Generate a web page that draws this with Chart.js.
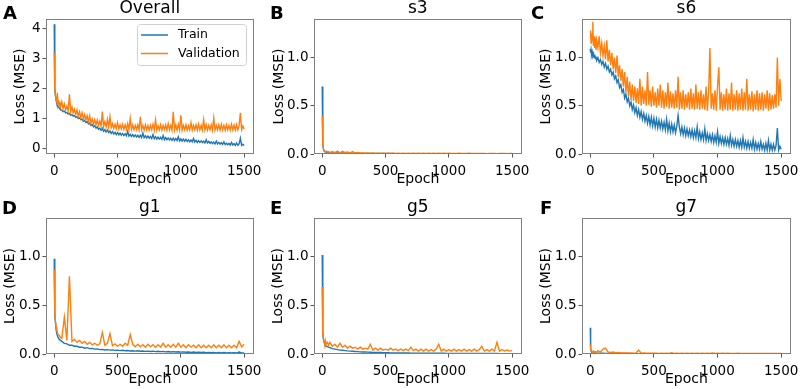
<!DOCTYPE html>
<html>
<head>
  <meta charset="utf-8">
  <title>Loss curves</title>
  <script src="https://cdn.jsdelivr.net/npm/chart.js@4"></script>
  <style>
    * { margin: 0; padding: 0; box-sizing: border-box; }
    html, body {
      width: 803px;
      height: 389px;
      overflow: hidden;
      background: #fff;
      font-family: "DejaVu Sans", sans-serif;
    }
    .box { position: absolute; }
    .tag {
      position: absolute;
      font: bold 18px "DejaVu Sans", sans-serif;
      line-height: 18px;
      color: #000;
    }
  </style>
</head>
<body>
<script>
  // dense epoch sampling, used for the two noisy panels (Overall, s6)
  const epochsDense = [
    0, 3, 6, 10, 15, 20, 25, 30, 35, 40, 45, 50,
    60, 70, 80, 90, 100, 110, 120, 130, 140, 150,
    160, 170, 180, 190, 200, 210, 220, 230, 240, 250,
    260, 270, 280, 290, 300, 310, 320, 330, 340, 350,
    360, 370, 380, 390, 400, 410, 420, 430, 440, 450,
    460, 470, 480, 490, 500, 510, 520, 530, 540, 550,
    560, 570, 580, 590, 600, 610, 620, 630, 640, 650,
    660, 670, 680, 690, 700, 710, 720, 730, 740, 750,
    760, 770, 780, 790, 800, 810, 820, 830, 840, 850,
    860, 870, 880, 890, 900, 910, 920, 930, 940, 950,
    960, 970, 980, 990, 1000, 1010, 1020, 1030, 1040, 1050,
    1060, 1070, 1080, 1090, 1100, 1110, 1120, 1130, 1140, 1150,
    1160, 1170, 1180, 1190, 1200, 1210, 1220, 1230, 1240, 1250,
    1260, 1270, 1280, 1290, 1300, 1310, 1320, 1330, 1340, 1350,
    1360, 1370, 1380, 1390, 1400, 1410, 1420, 1430, 1440, 1450,
    1460, 1470, 1480, 1490, 1500
  ];

  // coarser epoch sampling for the quieter panels
  const epochs = [
    0, 3, 6, 10, 15, 20, 25, 30, 40, 50,
    60, 80, 100, 120, 140, 160, 180, 200, 220, 240,
    260, 280, 300, 320, 340, 360, 380, 400, 420, 440,
    460, 480, 500, 520, 540, 560, 580, 600, 620, 640,
    660, 680, 700, 720, 740, 760, 780, 800, 820, 840,
    860, 880, 900, 920, 940, 960, 980, 1000, 1020, 1040,
    1060, 1080, 1100, 1120, 1140, 1160, 1180, 1200, 1220, 1240,
    1260, 1280, 1300, 1320, 1340, 1360, 1380, 1400, 1420, 1440,
    1460, 1480, 1500
  ];

  // A - Overall (dense)
  const trainOverall = [
    4.15, 2.6, 2.0, 1.75, 1.6, 1.5, 1.44, 1.40, 1.37, 1.34, 1.31, 1.29,
    1.27, 1.22, 1.24, 1.18, 1.20, 1.14, 1.16, 1.10, 1.12, 1.07,
    1.09, 1.03, 1.05, 0.99, 1.01, 0.95, 0.97, 0.90, 0.93, 0.86,
    0.89, 0.81, 0.84, 0.76, 0.79, 0.71, 0.75, 0.67, 0.71, 0.63,
    0.67, 0.59, 0.66, 0.56, 0.62, 0.54, 0.60, 0.52, 0.57, 0.49,
    0.55, 0.47, 0.53, 0.45, 0.52, 0.44, 0.50, 0.43, 0.49, 0.42,
    0.48, 0.41, 0.56, 0.40, 0.46, 0.39, 0.45, 0.38, 0.44, 0.37,
    0.43, 0.36, 0.43, 0.35, 0.50, 0.35, 0.41, 0.34, 0.40, 0.33,
    0.39, 0.32, 0.45, 0.31, 0.38, 0.30, 0.37, 0.30, 0.36, 0.29,
    0.42, 0.28, 0.35, 0.28, 0.34, 0.27, 0.33, 0.26, 0.33, 0.25,
    0.32, 0.25, 0.38, 0.24, 0.31, 0.23, 0.30, 0.23, 0.29, 0.22,
    0.28, 0.21, 0.27, 0.21, 0.32, 0.20, 0.26, 0.19, 0.25, 0.19,
    0.24, 0.18, 0.23, 0.17, 0.28, 0.17, 0.22, 0.16, 0.21, 0.15,
    0.20, 0.14, 0.23, 0.14, 0.19, 0.13, 0.18, 0.12, 0.21, 0.12,
    0.16, 0.11, 0.16, 0.10, 0.19, 0.10, 0.15, 0.09, 0.17, 0.09,
    0.14, 0.33, 0.09, 0.13, 0.08
  ];
  const valOverall = [
    3.2, 2.3, 1.95, 1.75, 1.62, 1.55, 1.85, 1.48, 1.60, 1.42, 1.55, 1.38,
    1.55, 1.32, 1.48, 1.28, 1.40, 1.25, 1.80, 1.22, 1.38, 1.18,
    1.30, 1.12, 1.28, 1.06, 1.22, 1.02, 1.18, 0.98, 1.12, 0.94,
    1.08, 0.88, 1.08, 0.84, 0.98, 0.80, 0.95, 0.78, 0.94, 0.76,
    0.90, 0.74, 1.22, 0.72, 0.88, 0.71, 0.96, 0.70, 1.05, 0.69,
    0.82, 0.66, 0.80, 0.65, 0.85, 0.64, 0.78, 0.64, 0.80, 0.63,
    0.78, 0.62, 0.82, 0.62, 1.00, 0.62, 0.78, 0.61, 0.76, 0.62,
    0.78, 0.61, 1.05, 0.62, 0.76, 0.60, 0.78, 0.61, 0.75, 0.60,
    0.76, 0.61, 0.80, 0.60, 0.95, 0.60, 0.75, 0.61, 0.78, 0.60,
    0.76, 0.62, 0.78, 0.60, 0.82, 0.61, 0.76, 0.60, 1.22, 0.61,
    0.78, 0.60, 0.80, 0.61, 1.10, 0.60, 0.76, 0.61, 0.78, 0.60,
    0.75, 0.61, 0.85, 0.60, 0.76, 0.61, 0.78, 0.60, 0.80, 0.61,
    0.76, 0.60, 0.95, 0.61, 0.78, 0.60, 0.76, 0.61, 0.78, 0.60,
    1.00, 0.60, 0.76, 0.61, 0.78, 0.60, 0.80, 0.61, 0.76, 0.60,
    0.78, 0.61, 0.76, 0.60, 0.80, 0.61, 0.77, 0.60, 0.78, 0.61,
    0.75, 1.18, 0.62, 0.74, 0.64
  ];

  // B - s3
  const trainS3 = [
    0.70, 0.25, 0.10, 0.05, 0.03, 0.025, 0.02, 0.02, 0.018, 0.015,
    0.014, 0.012, 0.012, 0.011, 0.010, 0.010, 0.009, 0.009, 0.008, 0.008,
    0.008, 0.007, 0.007, 0.007, 0.006, 0.006, 0.006, 0.006, 0.005, 0.005,
    0.005, 0.005, 0.005, 0.005, 0.005, 0.005, 0.004, 0.004, 0.004, 0.004,
    0.004, 0.004, 0.004, 0.004, 0.004, 0.004, 0.004, 0.004, 0.004, 0.004,
    0.004, 0.004, 0.003, 0.003, 0.003, 0.003, 0.003, 0.003, 0.003, 0.003,
    0.003, 0.003, 0.003, 0.003, 0.003, 0.003, 0.003, 0.003, 0.003, 0.003,
    0.003, 0.003, 0.003, 0.003, 0.003, 0.003, 0.003, 0.003, 0.003, 0.003,
    0.003, 0.003, 0.003
  ];
  const valS3 = [
    0.40, 0.22, 0.10, 0.05, 0.03, 0.025, 0.02, 0.03, 0.02, 0.025,
    0.015, 0.025, 0.015, 0.03, 0.012, 0.028, 0.015, 0.02, 0.012, 0.025,
    0.01, 0.015, 0.01, 0.012, 0.008, 0.01, 0.008, 0.01, 0.007, 0.009,
    0.006, 0.008, 0.006, 0.008, 0.006, 0.009, 0.006, 0.008, 0.006, 0.008,
    0.005, 0.008, 0.006, 0.007, 0.005, 0.008, 0.005, 0.007, 0.005, 0.007,
    0.005, 0.007, 0.005, 0.007, 0.005, 0.007, 0.005, 0.007, 0.005, 0.006,
    0.005, 0.007, 0.005, 0.006, 0.005, 0.007, 0.005, 0.006, 0.005, 0.006,
    0.005, 0.006, 0.004, 0.006, 0.005, 0.006, 0.004, 0.006, 0.005, 0.006,
    0.004, 0.006, 0.005
  ];

  // C - s6 (dense)
  const trainS6 = [
    1.09, 1.05, 1.08, 1.03, 1.06, 1.02, 1.04, 1.00, 1.03, 0.99, 1.01, 0.97,
    1.00, 0.95, 0.98, 0.93, 0.96, 0.90, 0.94, 0.88, 0.91, 0.85,
    0.88, 0.82, 0.85, 0.78, 0.81, 0.74, 0.77, 0.69, 0.72, 0.64,
    0.67, 0.58, 0.62, 0.54, 0.58, 0.50, 0.54, 0.46, 0.51, 0.43,
    0.48, 0.40, 0.46, 0.38, 0.44, 0.36, 0.42, 0.34, 0.40, 0.32,
    0.39, 0.30, 0.38, 0.29, 0.37, 0.28, 0.36, 0.27, 0.35, 0.27,
    0.34, 0.26, 0.33, 0.25, 0.36, 0.24, 0.32, 0.23, 0.31, 0.23,
    0.30, 0.22, 0.29, 0.40, 0.28, 0.21, 0.28, 0.20, 0.27, 0.19,
    0.26, 0.19, 0.25, 0.18, 0.25, 0.17, 0.24, 0.17, 0.28, 0.16,
    0.23, 0.15, 0.22, 0.15, 0.26, 0.14, 0.21, 0.14, 0.20, 0.13,
    0.20, 0.12, 0.19, 0.12, 0.23, 0.11, 0.18, 0.11, 0.17, 0.10,
    0.17, 0.10, 0.16, 0.09, 0.19, 0.09, 0.15, 0.08, 0.15, 0.08,
    0.14, 0.07, 0.14, 0.07, 0.17, 0.07, 0.13, 0.06, 0.13, 0.06,
    0.12, 0.06, 0.15, 0.05, 0.12, 0.05, 0.11, 0.05, 0.13, 0.05,
    0.10, 0.04, 0.11, 0.04, 0.14, 0.04, 0.10, 0.04, 0.10, 0.04,
    0.09, 0.27, 0.04, 0.08, 0.05
  ];
  const valS6 = [
    1.20, 1.28, 1.15, 1.25, 1.18, 1.37, 1.12, 1.22, 1.10, 1.20, 1.08, 1.18,
    1.10, 1.22, 1.05, 1.15, 1.02, 1.12, 0.98, 1.18, 0.96, 1.08,
    0.92, 1.05, 0.88, 1.00, 0.84, 1.02, 0.80, 0.92, 0.76, 0.88,
    0.70, 0.85, 0.64, 0.80, 0.60, 0.75, 0.56, 0.72, 0.55, 0.70,
    0.53, 0.68, 0.52, 0.78, 0.50, 0.70, 0.52, 0.66, 0.50, 0.85,
    0.51, 0.66, 0.49, 0.70, 0.50, 0.64, 0.48, 0.68, 0.50, 0.72,
    0.48, 0.66, 0.47, 0.64, 0.49, 0.74, 0.47, 0.65, 0.48, 0.63,
    0.47, 0.66, 0.48, 0.80, 0.46, 0.64, 0.47, 0.66, 0.46, 0.62,
    0.48, 0.64, 0.46, 0.68, 0.47, 0.63, 0.46, 0.72, 0.47, 0.64,
    0.46, 0.66, 0.47, 0.62, 0.46, 0.70, 0.45, 0.64, 1.10, 0.47,
    0.63, 0.46, 0.66, 0.45, 0.70, 0.90, 0.46, 0.64, 0.45, 0.62,
    0.46, 0.68, 0.45, 0.63, 0.46, 0.74, 0.45, 0.62, 0.46, 0.66,
    0.45, 0.63, 0.46, 0.68, 0.45, 0.64, 0.46, 0.78, 0.45, 0.62,
    0.46, 0.65, 0.44, 0.62, 0.46, 0.66, 0.45, 0.63, 0.46, 0.64,
    0.45, 0.62, 0.47, 0.66, 0.45, 0.63, 0.46, 0.61, 0.47, 0.62,
    0.48, 1.00, 0.50, 0.78, 0.55
  ];

  // D - g1
  const trainG1 = [
    0.98, 0.55, 0.40, 0.32, 0.25, 0.21, 0.19, 0.17, 0.15, 0.14,
    0.13, 0.11, 0.105, 0.09, 0.09, 0.08, 0.08, 0.07, 0.07, 0.06,
    0.065, 0.055, 0.058, 0.05, 0.052, 0.045, 0.048, 0.042, 0.045, 0.04,
    0.042, 0.037, 0.04, 0.035, 0.038, 0.033, 0.036, 0.031, 0.034, 0.03,
    0.033, 0.029, 0.031, 0.027, 0.03, 0.026, 0.029, 0.025, 0.028, 0.024,
    0.027, 0.022, 0.025, 0.021, 0.024, 0.02, 0.023, 0.019, 0.022, 0.018,
    0.021, 0.017, 0.02, 0.016, 0.019, 0.015, 0.018, 0.014, 0.017, 0.013,
    0.016, 0.012, 0.016, 0.011, 0.015, 0.011, 0.014, 0.01, 0.014, 0.01,
    0.02, 0.012, 0.01
  ];
  const valG1 = [
    0.87, 0.50, 0.42, 0.33, 0.28, 0.24, 0.22, 0.20, 0.19, 0.17,
    0.16, 0.38, 0.14, 0.80, 0.13, 0.15, 0.12, 0.14, 0.11, 0.13,
    0.10, 0.12, 0.095, 0.11, 0.09, 0.105, 0.22, 0.09, 0.11, 0.21,
    0.085, 0.105, 0.08, 0.10, 0.08, 0.11, 0.09, 0.20, 0.10, 0.075,
    0.10, 0.075, 0.095, 0.07, 0.10, 0.075, 0.095, 0.07, 0.095, 0.07,
    0.11, 0.07, 0.095, 0.07, 0.10, 0.07, 0.11, 0.07, 0.095, 0.065,
    0.095, 0.07, 0.09, 0.065, 0.095, 0.065, 0.09, 0.065, 0.09, 0.065,
    0.095, 0.065, 0.09, 0.065, 0.095, 0.065, 0.09, 0.065, 0.09, 0.065,
    0.13, 0.075, 0.10
  ];

  // E - g5
  const trainG5 = [
    1.02, 0.40, 0.22, 0.15, 0.12, 0.10, 0.09, 0.085, 0.075, 0.07,
    0.065, 0.055, 0.05, 0.045, 0.04, 0.038, 0.035, 0.032, 0.03, 0.028,
    0.026, 0.024, 0.022, 0.021, 0.02, 0.019, 0.018, 0.017, 0.016, 0.015,
    0.015, 0.014, 0.013, 0.013, 0.012, 0.012, 0.011, 0.011, 0.01, 0.01,
    0.01, 0.01, 0.009, 0.009, 0.009, 0.009, 0.008, 0.008, 0.008, 0.008,
    0.008, 0.007, 0.007, 0.007, 0.007, 0.007, 0.006, 0.006, 0.006, 0.006,
    0.006, 0.006, 0.006, 0.005, 0.005, 0.005, 0.005, 0.005, 0.005, 0.005,
    0.005, 0.005, 0.005, 0.005, 0.005, 0.005, 0.005, 0.004, 0.004, 0.004,
    0.004, 0.004, 0.004
  ];
  const valG5 = [
    0.69, 0.35, 0.20, 0.15, 0.13, 0.11, 0.14, 0.10, 0.12, 0.09,
    0.12, 0.08, 0.10, 0.07, 0.11, 0.07, 0.09, 0.06, 0.08, 0.06,
    0.07, 0.05, 0.07, 0.05, 0.06, 0.05, 0.10, 0.04, 0.06, 0.04,
    0.06, 0.04, 0.05, 0.04, 0.06, 0.04, 0.05, 0.035, 0.05, 0.035,
    0.05, 0.035, 0.07, 0.035, 0.05, 0.03, 0.05, 0.03, 0.05, 0.03,
    0.045, 0.03, 0.05, 0.10, 0.03, 0.05, 0.03, 0.045, 0.03, 0.05,
    0.03, 0.045, 0.03, 0.05, 0.03, 0.045, 0.03, 0.05, 0.03, 0.045,
    0.08, 0.03, 0.045, 0.03, 0.05, 0.03, 0.12, 0.03, 0.045, 0.03,
    0.04, 0.03, 0.035
  ];

  // F - g7
  const trainG7 = [
    0.27, 0.05, 0.03, 0.02, 0.015, 0.012, 0.01, 0.01, 0.01, 0.008,
    0.008, 0.007, 0.007, 0.006, 0.006, 0.006, 0.005, 0.005, 0.005, 0.005,
    0.005, 0.005, 0.004, 0.004, 0.004, 0.004, 0.004, 0.004, 0.004, 0.004,
    0.004, 0.004, 0.004, 0.003, 0.003, 0.003, 0.003, 0.003, 0.003, 0.003,
    0.003, 0.003, 0.003, 0.003, 0.003, 0.003, 0.003, 0.003, 0.003, 0.003,
    0.003, 0.003, 0.003, 0.003, 0.003, 0.003, 0.003, 0.003, 0.003, 0.003,
    0.003, 0.003, 0.003, 0.003, 0.003, 0.003, 0.003, 0.003, 0.003, 0.003,
    0.003, 0.003, 0.003, 0.003, 0.003, 0.003, 0.003, 0.003, 0.003, 0.003,
    0.003, 0.003, 0.003
  ];
  const valG7 = [
    0.10, 0.05, 0.04, 0.03, 0.025, 0.02, 0.03, 0.02, 0.025, 0.02,
    0.035, 0.02, 0.05, 0.06, 0.02, 0.015, 0.02, 0.012, 0.015, 0.01,
    0.012, 0.01, 0.01, 0.01, 0.008, 0.01, 0.04, 0.008, 0.01, 0.008,
    0.007, 0.009, 0.007, 0.008, 0.006, 0.008, 0.006, 0.008, 0.006, 0.012,
    0.006, 0.008, 0.006, 0.007, 0.006, 0.008, 0.005, 0.007, 0.006, 0.007,
    0.005, 0.007, 0.005, 0.007, 0.005, 0.01, 0.005, 0.007, 0.005, 0.007,
    0.005, 0.007, 0.005, 0.006, 0.005, 0.007, 0.005, 0.006, 0.005, 0.006,
    0.005, 0.006, 0.005, 0.006, 0.005, 0.006, 0.005, 0.006, 0.005, 0.006,
    0.005, 0.006, 0.005
  ];

  const xTicks = [0, 500, 1000, 1500];
  const yTicksOverall = [0, 1, 2, 3, 4];
  const yTicksPart = [0, 0.5, 1.0];
  const seriesNames = ['Train', 'Validation'];

  const BLUE = '#1f77b4';
  const ORANGE = '#ff7f0e';
  const FONT = '"DejaVu Sans", sans-serif';
  const X_AXIS_H = 36;

  // panel layout: plot-area box in page pixels
  const panels = [
    { tag: 'A', title: 'Overall', x: epochsDense, train: trainOverall, val: valOverall, yMin: -0.2, yMax: 4.33, yTicks: yTicksOverall, dec: 0,
      left: 46, top: 19, w: 212, h: 135, axisW: 38, legend: true, tagX: 3, tagY: 4 },
    { tag: 'B', title: 's3', x: epochs, train: trainS3, val: valS3, yMin: 0, yMax: 1.4, yTicks: yTicksPart, dec: 1,
      left: 314, top: 19, w: 212, h: 135, axisW: 47, tagX: 270, tagY: 4 },
    { tag: 'C', title: 's6', x: epochsDense, train: trainS6, val: valS6, yMin: 0, yMax: 1.4, yTicks: yTicksPart, dec: 1,
      left: 582, top: 19, w: 213, h: 135, axisW: 48, tagX: 531, tagY: 4 },
    { tag: 'D', title: 'g1', x: epochs, train: trainG1, val: valG1, yMin: 0, yMax: 1.4, yTicks: yTicksPart, dec: 1,
      left: 46, top: 218, w: 212, h: 136, axisW: 48, tagX: 2, tagY: 199 },
    { tag: 'E', title: 'g5', x: epochs, train: trainG5, val: valG5, yMin: 0, yMax: 1.4, yTicks: yTicksPart, dec: 1,
      left: 314, top: 218, w: 212, h: 136, axisW: 48, tagX: 270, tagY: 199 },
    { tag: 'F', title: 'g7', x: epochs, train: trainG7, val: valG7, yMin: 0, yMax: 1.4, yTicks: yTicksPart, dec: 1,
      left: 582, top: 218, w: 213, h: 136, axisW: 48, tagX: 540, tagY: 199 }
  ];

  // full box around the axes + matplotlib-like legend inside panel A
  const framePlugin = {
    id: 'frame',
    afterDatasetsDraw(chart) {
      const { ctx, chartArea: a } = chart;
      const l = Math.round(a.left), t = Math.round(a.top);
      const r = Math.round(a.right), b = Math.round(a.bottom);
      ctx.save();
      ctx.strokeStyle = '#808080';
      ctx.lineWidth = 1;
      ctx.strokeRect(l + 0.5, t + 0.5, r - l - 1, b - t - 1);
      ctx.restore();
    },
    afterDraw(chart, args, opts) {
      if (!opts.legend) return;
      const { ctx, chartArea: a } = chart;
      const bx = Math.round(a.right) - 117, by = Math.round(a.top) + 5;
      ctx.save();
      ctx.beginPath();
      ctx.roundRect(bx + 0.5, by + 0.5, 109, 41, 3);
      ctx.fillStyle = 'rgba(255,255,255,0.8)';
      ctx.fill();
      ctx.strokeStyle = '#d0d0d0';
      ctx.lineWidth = 1;
      ctx.stroke();
      ctx.font = '12.5px ' + FONT;
      ctx.textBaseline = 'middle';
      chart.data.datasets.forEach((ds, i) => {
        const y = by + 11 + i * 18.5;
        ctx.strokeStyle = ds.borderColor;
        ctx.lineWidth = 1.5;
        ctx.beginPath();
        ctx.moveTo(bx + 4, y);
        ctx.lineTo(bx + 31, y);
        ctx.stroke();
        ctx.fillStyle = '#000';
        ctx.fillText(ds.label, bx + 41, y);
      });
      ctx.restore();
    }
  };

  function makePanel(p) {
    const wrap = document.createElement('div');
    wrap.className = 'box';
    wrap.style.left = (p.left - p.axisW) + 'px';
    wrap.style.top = (p.top - 19) + 'px';
    wrap.style.width = (p.axisW + p.w + 10) + 'px';
    wrap.style.height = (19 + p.h + X_AXIS_H) + 'px';
    const cv = document.createElement('canvas');
    wrap.appendChild(cv);
    document.body.appendChild(wrap);

    const tag = document.createElement('div');
    tag.className = 'tag';
    tag.style.left = p.tagX + 'px';
    tag.style.top = p.tagY + 'px';
    tag.textContent = p.tag;
    document.body.appendChild(tag);

    const pts = vals => p.x.map((e, i) => ({ x: e, y: vals[i] }));

    new Chart(cv, {
      type: 'line',
      data: {
        datasets: [
          { label: seriesNames[0], data: pts(p.train), borderColor: BLUE, borderWidth: 1.4, pointRadius: 0, tension: 0, order: 2 },
          { label: seriesNames[1], data: pts(p.val), borderColor: ORANGE, borderWidth: 1.4, pointRadius: 0, tension: 0, order: 1 }
        ]
      },
      options: {
        responsive: true,
        maintainAspectRatio: false,
        animation: false,
        events: [],
        layout: { padding: { left: 0, right: 10, top: 0, bottom: 0 } },
        scales: {
          x: {
            type: 'linear',
            min: -65,
            max: 1575,
            afterBuildTicks: s => { s.ticks = xTicks.map(v => ({ value: v })); },
            afterFit: s => { s.height = X_AXIS_H; },
            grid: { display: true, drawOnChartArea: false, drawTicks: true, tickLength: 3.5, color: '#555' },
            border: { display: false },
            ticks: { color: '#000', padding: 6, font: { family: FONT, size: 13.5 }, maxRotation: 0, callback: v => String(v) },
            title: { display: true, text: 'Epoch', color: '#000', font: { family: FONT, size: 14 }, padding: { top: 0, bottom: 2 } }
          },
          y: {
            min: p.yMin,
            max: p.yMax,
            afterBuildTicks: s => { s.ticks = p.yTicks.map(v => ({ value: v })); },
            afterFit: s => { s.width = p.axisW; },
            grid: { display: true, drawOnChartArea: false, drawTicks: true, tickLength: 3.5, color: '#555' },
            border: { display: false },
            ticks: { color: '#000', padding: 2, font: { family: FONT, size: 13.5 }, callback: v => v.toFixed(p.dec) },
            title: { display: true, text: 'Loss (MSE)', color: '#000', font: { family: FONT, size: 14 }, padding: { top: 4, bottom: 4 } }
          }
        },
        plugins: {
          legend: { display: false },
          tooltip: { enabled: false },
          title: {
            display: true,
            text: p.title,
            fullSize: false,
            color: '#000',
            font: { family: FONT, size: 17, weight: 'normal', lineHeight: 1 },
            padding: { top: 0, bottom: 2 }
          },
          frame: { legend: !!p.legend }
        }
      },
      plugins: [framePlugin]
    });
  }

  panels.forEach(makePanel);
</script>
</body>
</html>
